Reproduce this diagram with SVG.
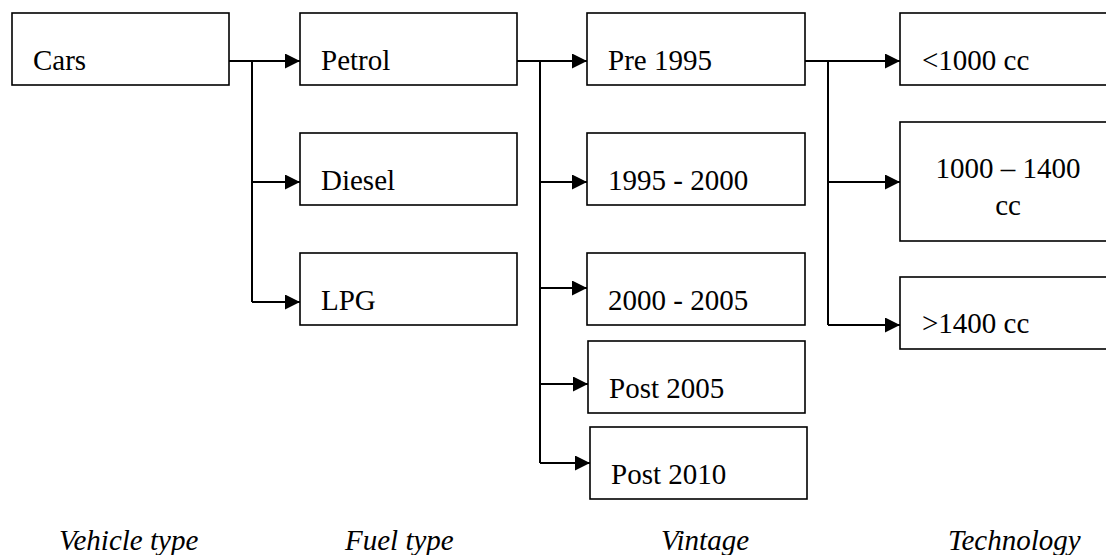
<svg xmlns="http://www.w3.org/2000/svg" width="1106" height="555" viewBox="0 0 1106 555">
<style>
.box{fill:#fff;stroke:#000;stroke-width:1.6}
.t{font-family:"Liberation Serif","Times New Roman",serif;font-size:29px;fill:#000}
.lbl{font-family:"Liberation Serif","Times New Roman",serif;font-size:29px;font-style:italic;fill:#000}
.c{fill:none;stroke:#000;stroke-width:2}
</style>
<defs>
<marker id="ah" markerUnits="userSpaceOnUse" markerWidth="15" markerHeight="15" refX="15" refY="7.5" orient="auto">
<path d="M0,0 L15,7.5 L0,15 Z" fill="#000"/>
</marker>
</defs>
<rect width="1106" height="555" fill="#fff"/>
<g id="connectors">
<path class="c" d="M229,61 H300" marker-end="url(#ah)"/>
<path class="c" d="M252,61 V302"/>
<path class="c" d="M252,182 H300" marker-end="url(#ah)"/>
<path class="c" d="M252,302 H300" marker-end="url(#ah)"/>
<path class="c" d="M517,61 H587" marker-end="url(#ah)"/>
<path class="c" d="M540,61 V463"/>
<path class="c" d="M540,182 H587" marker-end="url(#ah)"/>
<path class="c" d="M540,288 H587" marker-end="url(#ah)"/>
<path class="c" d="M540,384 H588" marker-end="url(#ah)"/>
<path class="c" d="M540,463 H590" marker-end="url(#ah)"/>
<path class="c" d="M805,61 H900" marker-end="url(#ah)"/>
<path class="c" d="M828,61 V325"/>
<path class="c" d="M828,182 H900" marker-end="url(#ah)"/>
<path class="c" d="M828,325 H900" marker-end="url(#ah)"/>
</g>
<g id="cars"><rect class="box" x="12" y="13" width="217" height="72"/><text class="t" x="33" y="70">Cars</text></g>
<g id="petrol"><rect class="box" x="300" y="13" width="217" height="72"/><text class="t" x="321" y="70">Petrol</text></g>
<g id="diesel"><rect class="box" x="300" y="133" width="217" height="72"/><text class="t" x="321" y="190">Diesel</text></g>
<g id="lpg"><rect class="box" x="300" y="253" width="217" height="72"/><text class="t" x="321" y="310">LPG</text></g>
<g id="pre1995"><rect class="box" x="587" y="13" width="218" height="72"/><text class="t" x="608" y="70">Pre 1995</text></g>
<g id="v1995"><rect class="box" x="587" y="133" width="218" height="72"/><text class="t" x="608" y="190">1995 - 2000</text></g>
<g id="v2000"><rect class="box" x="587" y="253" width="218" height="72"/><text class="t" x="608" y="310">2000 - 2005</text></g>
<g id="post2005"><rect class="box" x="588" y="341" width="217" height="72"/><text class="t" x="609" y="398">Post 2005</text></g>
<g id="post2010"><rect class="box" x="590" y="427" width="217" height="72"/><text class="t" x="611" y="484">Post 2010</text></g>
<g id="lt1000"><rect class="box" x="900" y="13" width="230" height="72"/><text class="t" x="922" y="70">&lt;1000 cc</text></g>
<g id="mid"><rect class="box" x="900" y="122" width="230" height="119"/><text class="t" x="1008" y="178" text-anchor="middle">1000 – 1400</text><text class="t" x="1008" y="215" text-anchor="middle">cc</text></g>
<g id="gt1400"><rect class="box" x="900" y="277" width="230" height="72"/><text class="t" x="922" y="333">&gt;1400 cc</text></g>
<g id="labels">
<text class="lbl" x="59" y="550">Vehicle type</text>
<text class="lbl" x="345" y="550">Fuel type</text>
<text class="lbl" x="661" y="550">Vintage</text>
<text class="lbl" x="948" y="550">Technology</text>
</g>
</svg>
